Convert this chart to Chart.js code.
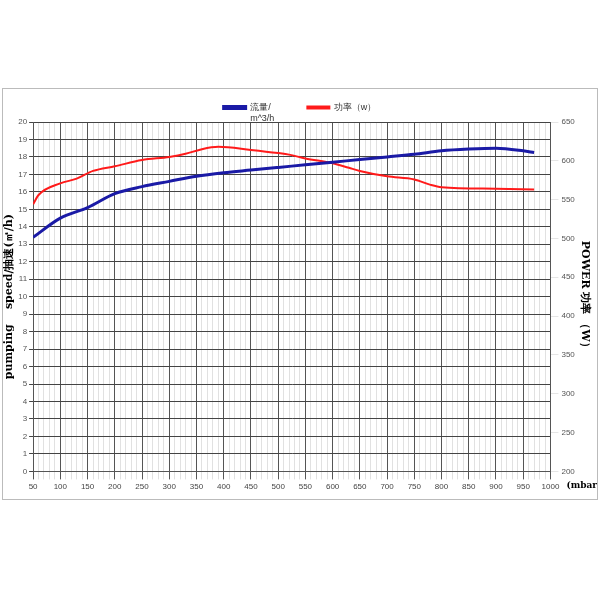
<!DOCTYPE html>
<html><head><meta charset="utf-8">
<script src="https://cdn.jsdelivr.net/npm/chart.js@4"></script>
<style>
body{margin:0;background:#fff;}
#box{position:absolute;left:2px;top:88px;width:594px;height:410px;border:1px solid #bbb;}
</style></head>
<body>
<div id="box"><canvas id="c"></canvas></div>
<script>
// 压力 (mbar)
const pressure = [50,100,150,200,250,300,350,400,450,500,550,600,650,700,750,800,850,900,950,970];
// 流量 m3/h
const flow = [13.4,14.5,15.1,15.9,16.3,16.6,16.9,17.1,17.25,17.4,17.55,17.7,17.85,18.0,18.15,18.35,18.45,18.5,18.35,18.25];
// 功率 W
const powerX = [50,60,100,130,160,200,250,300,330,360,390,450,500,520,550,600,630,650,700,750,780,800,900,970];
const power = [544,556,571,577,587,593,601,605,609,615,618,614,610,608,603,597,591,587,580,576,569,566,564,563];

const xy = (xs, ys) => xs.map((x,i)=>({x, y:ys[i]}));

new Chart(document.getElementById('c'), {
  type:'line',
  data:{ datasets:[
    {label:['流量/','m^3/h'], data:xy(pressure,flow), yAxisID:'y', borderColor:'#1a1aa6', backgroundColor:'#1a1aa6', borderWidth:3, pointRadius:0, cubicInterpolationMode:'monotone'},
    {label:'功率（w）', data:xy(powerX,power), yAxisID:'y2', borderColor:'#ff1a1a', backgroundColor:'#ff1a1a', borderWidth:2, pointRadius:0, cubicInterpolationMode:'monotone'}
  ]},
  options:{
    responsive:true, maintainAspectRatio:false, animation:false,
    layout:{padding:{top:4,right:0,left:0,bottom:4}},
    plugins:{
      legend:{position:'top', labels:{boxWidth:22, boxHeight:2, font:{size:9}, color:'#333', padding:10}},
      tooltip:{enabled:false}
    },
    scales:{
      x:{type:'linear', min:50, max:1000,
        afterBuildTicks: ax => { const t=[]; for(let v=50; v<=1000; v+=10) t.push({value:v}); ax.ticks=t; },
        ticks:{autoSkip:false, maxRotation:0, font:{size:8}, color:'#444',
          callback:v => v%50===0 ? String(v) : ''},
        grid:{color:ctx => ctx.tick && ctx.tick.value%50===0 ? '#555' : '#ccc', lineWidth:ctx => ctx.tick && ctx.tick.value%50===0 ? 1 : 0.6},
        border:{color:'#555'}
      },
      y:{position:'left', min:0, max:20,
        ticks:{stepSize:1, font:{size:8}, color:'#555', padding:2},
        grid:{color:'#444', tickLength:4},
        border:{color:'#555'},
        title:{display:true, text:'pumping    speed/抽速(㎡/h)', font:{size:11, weight:'bold', family:'DejaVu Serif'}, color:'#000', padding:0}
      },
      y2:{position:'right', min:200, max:650,
        ticks:{stepSize:50, font:{size:8}, color:'#555'},
        grid:{drawOnChartArea:false},
        border:{color:'#555'},
        title:{display:true, text:'POWER 功率 （W）', font:{size:11, weight:'bold', family:'DejaVu Serif'}, color:'#000', padding:{top:6,bottom:0}}
      }
    }
  },
  plugins:[{id:'mbar', afterDraw(ch){
    const c=ch.ctx, a=ch.chartArea;
    c.save(); c.font='bold 9px DejaVu Serif'; c.fillStyle='#000'; c.textAlign='left';
    c.fillText('(mbar)', a.right+16, a.bottom+14); c.restore();
  }}]
});
</script>
</body></html>
